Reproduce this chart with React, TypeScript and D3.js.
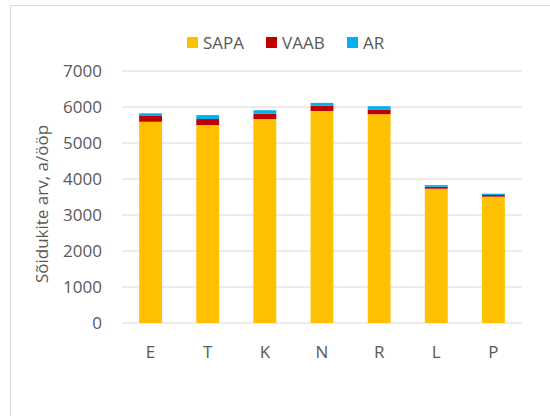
import { useMemo } from "react";
import * as d3 from "d3";

const categories = ["E", "T", "K", "N", "R", "L", "P"];
const sapa = [5590, 5500, 5665, 5890, 5800, 3730, 3510];
const vaab = [160, 165, 150, 150, 130, 55, 47];
const ar = [75, 110, 95, 75, 92, 46, 36];
const seriesNames = ["SAPA", "VAAB", "AR"];
const seriesColors = ["#FFC000", "#C00000", "#00B0F0"];
const yTicks = [0, 1000, 2000, 3000, 4000, 5000, 6000, 7000];

const width = 550;
const height = 416;
const margin = { top: 71, right: 28, bottom: 93, left: 122 };
const font = "'Open Sans', sans-serif";
const textColor = "#595959";

export default function App() {
  const rows = categories.map((c, i) => ({
    cat: c,
    SAPA: sapa[i],
    VAAB: vaab[i],
    AR: ar[i],
  }));

  const stacked = useMemo(() => d3.stack<any>().keys(seriesNames)(rows), []);

  const x = d3
    .scaleBand()
    .domain(categories)
    .range([margin.left, width - margin.right])
    .paddingInner(0.6)
    .paddingOuter(0.3);

  const y = d3
    .scaleLinear()
    .domain([0, 7000])
    .range([height - margin.bottom, margin.top]);

  // legend layout
  const legendItems = [
    { name: "SAPA", x: 187 },
    { name: "VAAB", x: 266 },
    { name: "AR", x: 347 },
  ];

  return (
    <svg
      width={width}
      height={height}
      style={{ position: "absolute", left: 0, top: 0, background: "#fff" }}
    >
      <rect x={10.5} y={5.5} width={560} height={430} fill="#fff" stroke="#d9d9d9" />

      {/* gridlines */}
      {yTicks.map((t) => (
        <line
          key={t}
          x1={margin.left}
          x2={width - margin.right}
          y1={y(t)}
          y2={y(t)}
          stroke="#d9d9d9"
          strokeWidth={1.2}
        />
      ))}

      {/* bars */}
      {stacked.map((s, si) => (
        <g key={s.key} fill={seriesColors[si]}>
          {s.map((d, i) => (
            <rect
              key={categories[i]}
              x={x(categories[i])}
              y={y(d[1])}
              width={x.bandwidth()}
              height={y(d[0]) - y(d[1])}
            />
          ))}
        </g>
      ))}

      {/* y tick labels */}
      {yTicks.map((t) => (
        <text
          key={t}
          x={102}
          y={y(t)}
          dy="0.35em"
          textAnchor="end"
          fontFamily={font}
          fontSize={17}
          fill={textColor}
        >
          {t}
        </text>
      ))}

      {/* x labels */}
      {categories.map((c) => (
        <text
          key={c}
          x={x(c)! + x.bandwidth() / 2}
          y={352}
          dy="0.35em"
          textAnchor="middle"
          fontFamily={font}
          fontSize={17}
          fill={textColor}
        >
          {c}
        </text>
      ))}

      {/* y axis title */}
      <text
        transform={`translate(42, 204) rotate(-90)`}
        dy="0.35em"
        textAnchor="middle"
        fontFamily={font}
        fontSize={17}
        fill={textColor}
      >
        Sõidukite arv, a/ööp
      </text>

      {/* legend */}
      {legendItems.map((l, i) => (
        <g key={l.name}>
          <rect x={l.x} y={37} width={11} height={11} fill={seriesColors[i]} />
          <text
            x={l.x + 16}
            y={43}
            dy="0.35em"
            fontFamily={font}
            fontSize={17}
            fill={textColor}
          >
            {l.name}
          </text>
        </g>
      ))}
    </svg>
  );
}
